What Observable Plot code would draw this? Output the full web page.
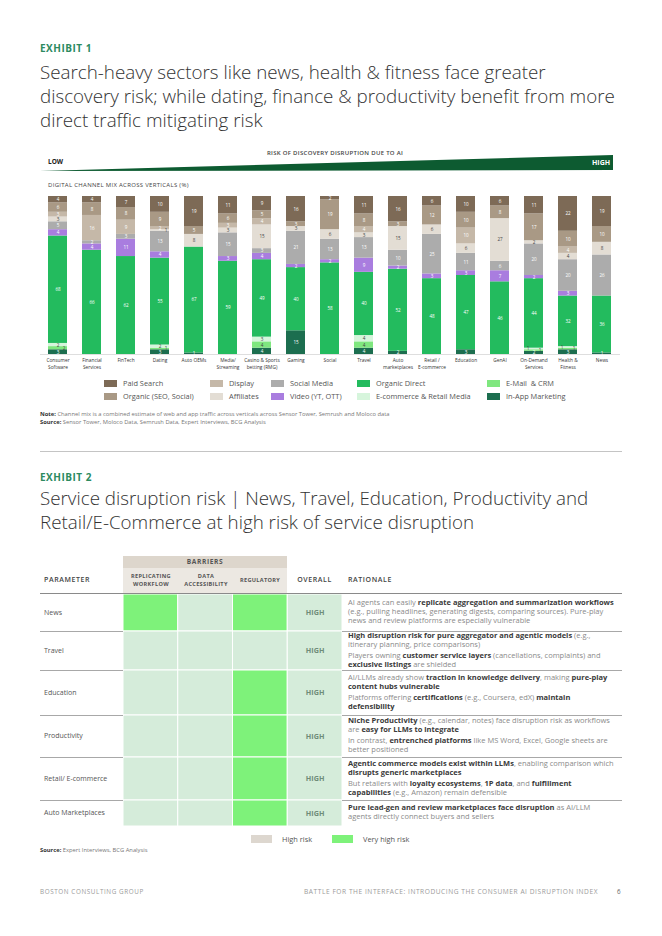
<!DOCTYPE html>
<html>
<head>
<meta charset="utf-8">
<script src="https://cdn.jsdelivr.net/npm/d3@7"></script>
<script src="https://cdn.jsdelivr.net/npm/@observablehq/plot@0.6"></script>
<style>
html,body{margin:0;padding:0;background:#fff;}
#page{position:relative;width:662px;height:936px;overflow:hidden;font-family:"Open Sans","Noto Sans",sans-serif;color:#333;}
.a{position:absolute;white-space:nowrap;}
.exh{font-size:10px;font-weight:700;color:#2c8a5f;letter-spacing:0.5px;line-height:12px;}
.title{font-weight:300;color:#333;line-height:24px;}
.cap{font-weight:600;letter-spacing:0.3px;color:#444;}
.leg{font-size:7.4px;color:#555;line-height:10px;display:flex;align-items:center;}
.sw{display:inline-block;width:13px;height:7px;margin-right:6px;}
.rat{font-size:7.5px;color:#8a8a8a;line-height:9px;}
.rat b{color:#3a3a3a;font-weight:700;}
.rat p{margin:0 0 2px 0;}
.hdr{font-size:7px;font-weight:600;color:#444;letter-spacing:0.6px;line-height:10px;}
.sub{font-size:5.6px;font-weight:700;color:#555;letter-spacing:0.3px;line-height:7.5px;text-align:center;}
</style>
</head>
<body>
<div id="page"></div>
<script>
// ---------------- Exhibit 1 data ----------------
const verticals = ["Consumer Software","Financial Services","FinTech","Dating","Auto OEMs","Media/ Streaming","Casino & Sports betting (RMG)","Gaming","Social","Travel","Auto marketplaces","Retail / E-commerce","Education","GenAI","On-Demand Services","Health & Fitness","News"];
const verticalLabels = ["Consumer\nSoftware","Financial\nServices","FinTech","Dating","Auto OEMs","Media/\nStreaming","Casino & Sports\nbetting (RMG)","Gaming","Social","Travel","Auto\nmarketplaces","Retail /\nE-commerce","Education","GenAI","On-Demand\nServices","Health &\nFitness","News"];
const channels = ["Paid Search","Organic (SEO, Social)","Display","Affiliates","Social Media","Video (YT, OTT)","Organic Direct","E-commerce & Retail Media","E-Mail & CRM","In-App Marketing"];
const channelColors = ["#7d6a56","#a99985","#c5b8a8","#e3ddd4","#acacac","#a97ddf","#23bb5e","#d6f5dc","#7fe77f","#1c6e4f"];
const paidSearch   = [4,4,7,10,19,11,9,16,2,11,16,6,10,6,11,22,19];
const organicSEO   = [6,8,8,9,5,6,5,3,19,8,3,12,10,8,17,10,10];
const display      = [3,16,9,2,0,3,4,0,0,4,0,0,10,0,0,4,0];
const affiliates   = [3,0,0,1,8,3,15,3,6,3,15,6,6,27,2,4,8];
const socialMedia  = [5,2,3,13,0,15,3,21,13,13,10,25,11,6,20,20,26];
const video        = [4,4,11,4,0,3,4,2,2,9,2,3,3,7,2,3,0];
const organicDirect= [68,66,62,55,67,59,49,40,58,40,52,48,47,46,44,32,36];
const ecommerce    = [2,0,0,2,0,0,3,0,0,4,0,0,0,0,1,1,0];
const email        = [2,0,0,1,0,0,4,0,0,4,0,0,0,0,1,1,0];
const inApp        = [3,0,0,3,1,0,4,15,0,4,2,0,3,0,2,3,1];
const seriesByChannel = [paidSearch,organicSEO,display,affiliates,socialMedia,video,organicDirect,ecommerce,email,inApp];
const darkLabelChannels = ["Affiliates","E-commerce & Retail Media","E-Mail & CRM"];

// ---------------- Exhibit 2 data ----------------
const parameters = ["News","Travel","Education","Productivity","Retail/ E-commerce","Auto Marketplaces"];
const barrierColumns = ["REPLICATING\nWORKFLOW","DATA\nACCESSIBILITY","REGULATORY"];
const replicatingWorkflow = ["Very high","High","High","High","High","High"];
const dataAccessibility   = ["High","High","High","High","High","High"];
const regulatory          = ["Very high","High","Very high","Very high","Very high","Very high"];
const overall             = ["HIGH","HIGH","HIGH","HIGH","HIGH","HIGH"];
const riskLevels = ["High","Very high"];
const rationale = [
  ["AI agents can easily <b>replicate aggregation and summarization workflows</b><br>(e.g., pulling headlines, generating digests, comparing sources). Pure-play<br>news and review platforms are especially vulnerable"],
  ["<b>High disruption risk for pure aggregator and agentic models</b> (e.g.,<br>itinerary planning, price comparisons)","Players owning <b>customer service layers</b> (cancellations, complaints) and<br><b>exclusive listings</b> are shielded"],
  ["AI/LLMs already show <b>traction in knowledge delivery</b>, making <b>pure-play<br>content hubs vulnerable</b>","Platforms offering <b>certifications</b> (e.g., Coursera, edX) <b>maintain<br>defensibility</b>"],
  ["<b>Niche Productivity</b> (e.g., calendar, notes) face disruption risk as workflows<br>are <b>easy for LLMs to integrate</b>","In contrast, <b>entrenched platforms</b> like MS Word, Excel, Google sheets are<br>better positioned"],
  ["<b>Agentic commerce models exist within LLMs</b>, enabling comparison which<br><b>disrupts generic marketplaces</b>","But retailers with <b>loyalty ecosystems</b>, <b>1P data</b>, and <b>fulfillment<br>capabilities</b> (e.g., Amazon) remain defensible"],
  ["<b>Pure lead-gen and review marketplaces face disruption</b> as AI/LLM<br>agents directly connect buyers and sellers"]
];

// ---------------- layout helpers ----------------
const page = document.getElementById("page");
function add(html, css, cls) {
  const d = document.createElement("div");
  d.className = "a " + (cls || "");
  d.innerHTML = html;
  Object.assign(d.style, css);
  page.appendChild(d);
  return d;
}
function fitSize(text, weight, family, target) {
  const c = document.createElement("canvas").getContext("2d");
  c.font = `${weight} 20px ${family}`;
  return 20 * target / c.measureText(text).width;
}
const titleSize = fitSize("discovery risk; while dating, finance & productivity benefit from more", 300, "'Open Sans'", 575);

// ---------------- Exhibit 1 ----------------
add("EXHIBIT 1", {left:"40px", top:"42px"}, "exh");
add("Search-heavy sectors like news, health &amp; fitness face greater<br>discovery risk; while dating, finance &amp; productivity benefit from more<br>direct traffic mitigating risk", {left:"40px", top:"60px", fontSize: titleSize + "px"}, "title");

add("RISK OF DISCOVERY DISRUPTION DUE TO AI", {left:"0px", width:"662px", textAlign:"center", top:"149px", fontSize:"6px", lineHeight:"8px", paddingLeft:"8px", boxSizing:"border-box"}, "cap");
add("", {left:"40px", top:"155px", width:"573px", height:"16px", background:"#0d5b31", clipPath:"polygon(0% 100%, 100% 0%, 100% 94%)"});
add("LOW", {left:"48px", top:"158px", fontSize:"6.5px", fontWeight:"700", color:"#222", lineHeight:"8px"});
add("HIGH", {left:"592px", top:"159px", fontSize:"7px", fontWeight:"700", color:"#fff", lineHeight:"8px"});
add("DIGITAL CHANNEL MIX ACROSS VERTICALS (%)", {left:"48px", top:"181px", fontSize:"6px", lineHeight:"8px", fontWeight:"500"}, "cap");

const rows = [];
verticals.forEach((v, i) => {
  for (let k = channels.length - 1; k >= 0; k--) {
    const val = seriesByChannel[k][i];
    if (val > 0) rows.push({vertical: v, channel: channels[k], value: val});
  }
});
const isDark = d => darkLabelChannels.includes(d.channel);
// labels of very thin segments are nudged sideways, as in the reference
const nudge = d => {
  if (d.channel === "E-Mail & CRM" && d.value <= 2) return 1;
  if (d.channel === "E-commerce & Retail Media" && d.value <= 1) return -1;
  if (d.channel === "Affiliates" && d.value <= 1) return 1;
  return 0;
};
function labelMark(dark, side) {
  return Plot.text(rows, Plot.stackY({
    x: "vertical", y: "value", z: "channel",
    text: d => (isDark(d) === dark && nudge(d) === side) ? String(d.value) : "",
    fill: dark ? "#444" : "#fff", fontSize: 4.6, dx: side * 6
  }));
}

const chart = Plot.plot({
  width: 580, height: 182,
  marginTop: 6, marginBottom: 18, marginLeft: 0, marginRight: 0,
  style: {fontFamily: "'Open Sans', sans-serif", background: "transparent", overflow: "visible"},
  x: {domain: verticals, paddingInner: 0.44, paddingOuter: 0.2},
  y: {domain: [0, 100], axis: null},
  color: {domain: channels, range: channelColors},
  marks: [
    Plot.barY(rows, {x: "vertical", y: "value", fill: "channel"}),
    Plot.ruleY([0], {stroke: "#c8c8c8", strokeWidth: 0.6}),
    labelMark(false, 0), labelMark(true, 0),
    labelMark(false, 1), labelMark(true, 1),
    labelMark(false, -1), labelMark(true, -1),
    Plot.axisX({tickSize: 0, tickPadding: 3, fontSize: 4.8, lineHeight: 1.35, fill: "#333", label: null, tickFormat: d => verticalLabels[verticals.indexOf(d)]})
  ]
});
const chartBox = add("", {left: "40px", top: "190px"});
chartBox.appendChild(chart);

// legend
const legendCols = [104, 210, 271, 357, 487];
const legendRows = [383, 396];
channels.forEach((ch, k) => {
  const col = Math.floor(k / 2), row = k % 2;
  add(`<span class="sw" style="background:${channelColors[k]}"></span>${ch.replace("&", "&amp;").replace("E-Mail &amp;", "E-Mail&nbsp; &amp;")}`,
      {left: legendCols[col] + "px", top: (legendRows[row] - 5) + "px"}, "leg");
});

add('<b style="color:#333">Note:</b> Channel mix is a combined estimate of web and app traffic across verticals across Sensor Tower, Semrush and Moloco data<br><b style="color:#333">Source:</b> Sensor Tower, Moloco Data, Semrush Data, Expert Interviews, BCG Analysis',
    {left: "40px", top: "410px", fontSize: "5.8px", lineHeight: "8px", color: "#777"});

add("", {left: "40px", top: "451px", width: "582px", height: "0px", borderTop: "1px solid #c4c4c4"});

// ---------------- Exhibit 2 ----------------
add("EXHIBIT 2", {left: "40px", top: "471px"}, "exh");
add("Service disruption risk | News, Travel, Education, Productivity and<br>Retail/E-Commerce at high risk of service disruption", {left: "40px", top: "486px", fontSize: titleSize + "px"}, "title");

add("BARRIERS", {left: "123px", top: "556px", width: "164px", height: "12px", lineHeight: "12px", background: "#ddd6cc", textAlign: "center", fontSize: "6.6px", fontWeight: "700", color: "#555", letterSpacing: "0.6px"});
add("", {left: "123px", top: "568px", width: "164px", height: "25px", background: "#ece8e2"});
const barrierCenters = [151, 206, 260];
barrierColumns.forEach((c, j) => {
  add(c.replace("\n", "<br>"), {left: (barrierCenters[j] - 30) + "px", width: "60px", top: (c.includes("\n") ? 573 : 576.5) + "px"}, "sub");
});
add("PARAMETER", {left: "44px", top: "575px"}, "hdr");
add("OVERALL", {left: "287px", width: "55px", textAlign: "center", top: "575px"}, "hdr");
add("RATIONALE", {left: "348px", top: "575px"}, "hdr");
add("", {left: "40px", top: "593px", width: "582px", height: "0px", borderTop: "1px solid #8a8a8a"});

const gridTop = 594;
const rowHeights = [37, 39, 45, 42, 43, 26];
const rowTops = [0];
rowHeights.forEach(h => rowTops.push(rowTops[rowTops.length - 1] + h));
const gridH = rowTops[rowTops.length - 1];

const cells = [];
const barrierSeries = [replicatingWorkflow, dataAccessibility, regulatory];
parameters.forEach((p, i) => {
  barrierSeries.forEach((s, j) => cells.push({row: i, col: j, level: s[i], label: ""}));
  cells.push({row: i, col: 3, level: "High", label: overall[i]});
});
const grid = Plot.plot({
  width: 219, height: gridH,
  margin: 0,
  style: {fontFamily: "'Open Sans', sans-serif", background: "transparent"},
  x: {domain: [0, 4], range: [0, 219], axis: null},
  y: {domain: [0, gridH], range: [0, gridH], axis: null},
  color: {domain: riskLevels, range: ["#d5ecda", "#7ef27a"]},
  marks: [
    Plot.rect(cells, {x1: d => d.col, x2: d => d.col + 1, y1: d => rowTops[d.row], y2: d => rowTops[d.row + 1], fill: "level", stroke: "#fff", strokeWidth: 1}),
    Plot.text(cells.filter(d => d.label), {x: d => d.col + 0.5, y: d => (rowTops[d.row] + rowTops[d.row + 1]) / 2, text: "label", fill: "#6f8c79", fontWeight: 700, fontSize: 7.2, letterSpacing: "0.6px"})
  ]
});
const gridBox = add("", {left: "123px", top: gridTop + "px"});
gridBox.appendChild(grid);

parameters.forEach((p, i) => {
  const top = gridTop + rowTops[i], h = rowHeights[i];
  add(p, {left: "44px", top: top + "px", height: h + "px", lineHeight: h + "px", fontSize: "7px", color: "#555"});
  add(rationale[i].map(t => `<p>${t}</p>`).join(""), {left: "348px", top: top + "px", height: h + "px", display: "flex", flexDirection: "column", justifyContent: "center"}, "rat");
  if (i < parameters.length - 1) {
    add("", {left: "40px", top: (top + h) + "px", width: "83px", borderTop: "1px solid #a8a8a8"});
    add("", {left: "342px", top: (top + h) + "px", width: "280px", borderTop: "1px solid #a8a8a8"});
  }
});

add('<span class="sw" style="background:#ddd7cf;width:21px;height:8px;margin-right:10px"></span>High risk', {left: "251px", top: "834px"}, "leg");
add('<span class="sw" style="background:#7ef27a;width:21px;height:8px;margin-right:10px"></span>Very high risk', {left: "332px", top: "834px"}, "leg");
add('<b style="color:#333">Source:</b> Expert Interviews, BCG Analysis', {left: "40px", top: "846px", fontSize: "5.8px", lineHeight: "8px", color: "#777"});

// ---------------- footer ----------------
add("BOSTON CONSULTING GROUP", {left: "40px", top: "888px", fontSize: "6.3px", lineHeight: "8px", color: "#9a9a9a", letterSpacing: "0.6px"});
add("BATTLE FOR THE INTERFACE: INTRODUCING THE CONSUMER AI DISRUPTION INDEX", {right: "64px", top: "888px", fontSize: "6.6px", lineHeight: "8px", color: "#9a9a9a", letterSpacing: "0.55px"});
add("6", {left: "617px", top: "888px", fontSize: "6.3px", lineHeight: "8px", color: "#666"});
</script>
</body>
</html>
